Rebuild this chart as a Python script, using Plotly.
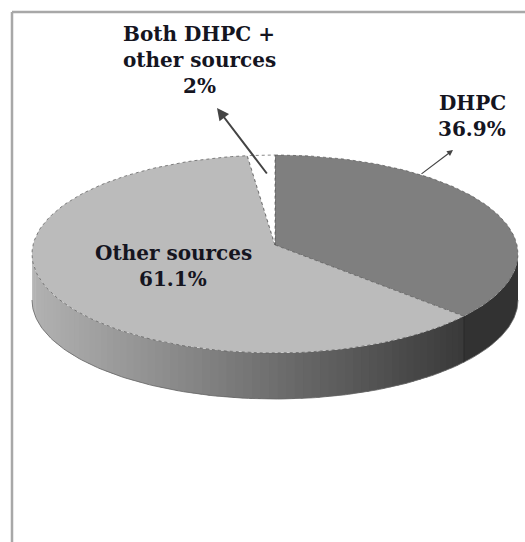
import numpy as np
import plotly.graph_objects as go

# Data
labels = ["DHPC", "Other sources", "Both DHPC +<br>other sources"]
shares = [36.9, 61.1, 2.0]
top_colors = ["#7f7f7f", "#bbbbbb", "#ffffff"]

# Layout constants
W, H = 525, 542
CX, CY, RX, RY = 275, 254, 243, 99
APEX_Y = 245
DEPTH = 46
TEXT = "#15151f"
FONT = "DejaVu Serif"
FONT_SIZE = 20
LINE_STEP = 26

def arc(t0, t1, n=80):
    t = np.radians(np.linspace(t0, t1, n))
    return CX + RX * np.sin(t), CY - RY * np.cos(t)

def projected(deg):
    """Slice angle to rim angle: the apex sits above the ellipse centre (perspective)."""
    th = np.radians(deg)
    ux, uy = np.sin(th), -RY * np.cos(th) / RY
    off = (APEX_Y - CY) / RY
    a = ux ** 2 + uy ** 2
    b = 2 * uy * off
    c = off ** 2 - 1
    s = (-b + np.sqrt(b ** 2 - 4 * a * c)) / (2 * a)
    t = np.degrees(np.arctan2(s * ux, -(off + s * uy)))
    return t % 360

def grey(v):
    v = int(round(v))
    return f"rgb({v},{v},{v})"

fig = go.Figure()
ends_deg = np.cumsum(shares) / sum(shares) * 360
starts_deg = np.r_[0, ends_deg[:-1]]
starts = [projected(d) for d in starts_deg]
ends = [projected(d) if d < 360 else 360.0 for d in ends_deg]

# Rim, drawn as narrow strips
boundary = ends[0]
STRIPS = 70
edges = np.linspace(boundary, 270, STRIPS + 1)
for a, b in zip(edges[:-1], edges[1:]):
    x, y = arc(a, b + 0.6, 5)
    mid = (CX + RX * np.sin(np.radians((a + b) / 2)) - 32) / (462 - 32)
    shade = 178 - (178 - 58) * min(max(mid, 0), 1)
    fig.add_trace(go.Scatter(
        x=np.r_[x, x[::-1]], y=np.r_[y, y[::-1] + DEPTH],
        mode="lines", fill="toself", fillcolor=grey(shade),
        line=dict(width=0), hoverinfo="skip", showlegend=False))
x, y = arc(90, boundary)
fig.add_trace(go.Scatter(
    x=np.r_[x, x[::-1]], y=np.r_[y, y[::-1] + DEPTH],
    mode="lines", fill="toself", fillcolor="#323232",
    line=dict(width=0), hoverinfo="skip", showlegend=False))

# Outer edge of the rim and seam
x, y = arc(90, 270, 160)
fig.add_trace(go.Scatter(x=x, y=y + DEPTH, mode="lines",
                         line=dict(color="#666666", width=0.8),
                         hoverinfo="skip", showlegend=False))
bx, by = arc(boundary, boundary, 1)
fig.add_trace(go.Scatter(x=[bx[0], bx[0]], y=[by[0], by[0] + DEPTH], mode="lines",
                         line=dict(color="#222222", width=1),
                         hoverinfo="skip", showlegend=False))

# Slices
for name, s, e, c in zip(labels, starts, ends, top_colors):
    x, y = arc(s, e, 120)
    fig.add_trace(go.Scatter(
        x=np.r_[CX, x, CX], y=np.r_[APEX_Y, y, APEX_Y],
        mode="lines", fill="toself", fillcolor=c,
        line=dict(color="#555555", width=0.7, dash="dot"),
        name=name.replace("<br>", " "), hoverinfo="name", showlegend=False))

def note(lines, x, y0):
    for i, text in enumerate(lines):
        fig.add_annotation(x=x, y=y0 + i * LINE_STEP, text=f"<b>{text}</b>", showarrow=False,
                           font=dict(family=FONT, size=FONT_SIZE, color=TEXT), align="center",
                           xanchor="center", yanchor="middle")

note(labels[2].split("<br>") + [f"{shares[2]:g}%"], 199, 34)
note([labels[0], f"{shares[0]}%"], 472, 103)
note([labels[1], f"{shares[1]}%"], 173, 253)

for (hx, hy, tx, ty, w, s) in [(217, 108, 268, 175, 2.0, 1.2), (453, 150, 420, 175, 1.2, 1.0)]:
    fig.add_annotation(x=hx, y=hy, ax=tx, ay=ty, xref="x", yref="y", axref="x", ayref="y",
                       text="", showarrow=True, arrowhead=2, arrowsize=s, arrowwidth=w,
                       arrowcolor="#444444")

fig.update_layout(
    width=W, height=H, margin=dict(l=0, r=0, t=0, b=0),
    paper_bgcolor="white", plot_bgcolor="white", showlegend=False,
    xaxis=dict(range=[0, W], visible=False, fixedrange=True),
    yaxis=dict(range=[H, 0], visible=False, fixedrange=True),
    shapes=[
        dict(type="line", x0=12, x1=12, y0=12, y1=H, line=dict(color="#a8a8a8", width=2.5)),
        dict(type="line", x0=12, x1=W, y0=12, y1=12, line=dict(color="#a8a8a8", width=2.5)),
    ],
)
fig.write_html("out.html", config={"displayModeBar": False},
               post_script="document.body.style.margin='0';document.documentElement.style.overflow='hidden';")
